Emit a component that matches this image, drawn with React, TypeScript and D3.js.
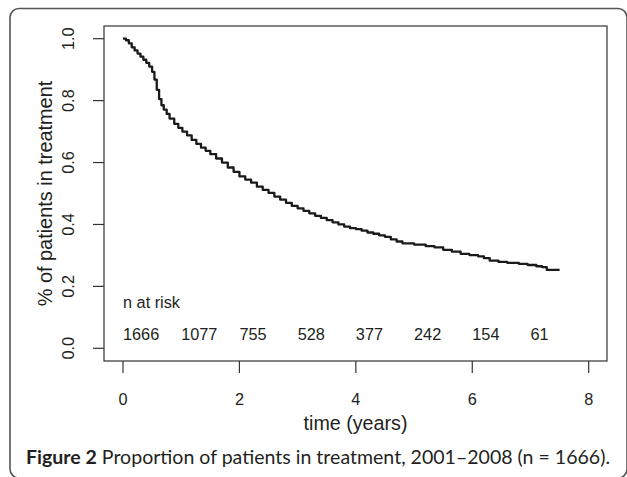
import React from "react";
import * as d3 from "d3";

const times = [0, 0.05, 0.1, 0.15, 0.2, 0.25, 0.3, 0.35, 0.4, 0.45, 0.5, 0.54, 0.58, 0.62, 0.66, 0.7, 0.75, 0.8, 0.88, 0.95, 1.02, 1.1, 1.18, 1.26, 1.34, 1.42, 1.5, 1.6, 1.7, 1.8, 1.9, 2.0, 2.1, 2.2, 2.3, 2.4, 2.5, 2.6, 2.7, 2.8, 2.9, 3.0, 3.1, 3.2, 3.3, 3.4, 3.5, 3.6, 3.7, 3.8, 3.9, 4.0, 4.1, 4.2, 4.3, 4.4, 4.5, 4.6, 4.7, 4.8, 5.0, 5.2, 5.35, 5.5, 5.65, 5.8, 5.95, 6.1, 6.2, 6.3, 6.45, 6.6, 6.8, 6.95, 7.1, 7.2, 7.28, 7.5];
const survival = [1.0, 0.995, 0.985, 0.972, 0.962, 0.952, 0.942, 0.932, 0.922, 0.91, 0.893, 0.868, 0.835, 0.805, 0.785, 0.771, 0.757, 0.742, 0.725, 0.712, 0.7, 0.688, 0.673, 0.66, 0.648, 0.638, 0.627, 0.613, 0.6, 0.584, 0.57, 0.555, 0.545, 0.535, 0.522, 0.512, 0.502, 0.49, 0.48, 0.47, 0.46, 0.452, 0.444, 0.436, 0.428, 0.421, 0.414, 0.407, 0.4, 0.393, 0.388, 0.385, 0.38, 0.374, 0.37, 0.365, 0.36, 0.352, 0.345, 0.339, 0.335, 0.33, 0.326, 0.318, 0.312, 0.305, 0.301, 0.297, 0.291, 0.283, 0.279, 0.276, 0.273, 0.269, 0.265, 0.262, 0.253, 0.253];

const riskTimes = [0, 1, 2, 3, 4, 5, 6, 7];
const riskCounts = ["1666", "1077", "755", "528", "377", "242", "154", "61"];

const xTicks = [0, 2, 4, 6, 8];
const yTicks = [0, 0.2, 0.4, 0.6, 0.8, 1.0];

const xTitle = "time (years)";
const yTitle = "% of patients in treatment";
const riskTitle = "n at risk";
const captionBold = "Figure 2";
const captionRest = " Proportion of patients in treatment, 2001–2008 (n = 1666).";

export default function App() {
  const W = 627, H = 477;
  const box = { left: 104, top: 26, right: 607, bottom: 361 };
  const x = d3.scaleLinear().domain([0, 8]).range([123, 588.7]);
  const y = d3.scaleLinear().domain([0, 1]).range([348.3, 38.7]);
  const pts: [number, number][] = times.map((t, i) => [t, survival[i]]);
  const line = d3
    .line<[number, number]>()
    .x((d) => x(d[0]))
    .y((d) => y(d[1]))
    .curve(d3.curveStepAfter);
  const font = "'Liberation Sans', Arial, Helvetica, sans-serif";
  const ink = "#231f20";

  return (
    <svg
      width={W}
      height={H}
      style={{ position: "absolute", left: 0, top: 0, background: "#fff" }}
      fontFamily={font}
    >
      <rect x={0} y={0} width={W} height={H} fill="#fff" />
      <rect x={10} y={8.5} width={617} height={469.5} rx={9} ry={9} fill="none" stroke="#555" strokeWidth={1.6} />
      <rect
        x={box.left}
        y={box.top}
        width={box.right - box.left}
        height={box.bottom - box.top}
        fill="none"
        stroke="#333"
        strokeWidth={1.2}
      />
      {xTicks.map((t) => (
        <g key={"xt" + t}>
          <line x1={x(t)} x2={x(t)} y1={box.bottom} y2={box.bottom + 12} stroke="#333" strokeWidth={1.2} />
          <text x={x(t)} y={405} fontSize={16.3} textAnchor="middle" fill={ink}>
            {String(t)}
          </text>
        </g>
      ))}
      {yTicks.map((v) => (
        <g key={"yt" + v}>
          <line x1={box.left} x2={box.left - 11} y1={y(v)} y2={y(v)} stroke="#333" strokeWidth={1.2} />
          <text
            transform={`translate(73.5,${y(v)}) rotate(-90)`}
            fontSize={16.3}
            textAnchor="middle"
            fill={ink}
          >
            {v.toFixed(1)}
          </text>
        </g>
      ))}
      <text x={(box.left + box.right) / 2} y={430} fontSize={19.7} textAnchor="middle" fill={ink}>
        {xTitle}
      </text>
      <text
        transform={`translate(51.5,${(box.top + box.bottom) / 2}) rotate(-90)`}
        fontSize={19.9}
        textAnchor="middle"
        fill={ink}
      >
        {yTitle}
      </text>
      <path d={line(pts) || ""} fill="none" stroke="#1a1a1a" strokeWidth={2.3} strokeLinejoin="round" />
      <text x={x(0)} y={308} fontSize={16.3} fill={ink}>
        {riskTitle}
      </text>
      {riskTimes.map((t, i) => (
        <text key={"r" + t} x={x(t)} y={339.5} fontSize={16.3} fill={ink}>
          {riskCounts[i]}
        </text>
      ))}
      <text x={26} y={464} fontSize={19} fill={ink} fontFamily="Lato, 'Open Sans', sans-serif" textLength={584} lengthAdjust="spacingAndGlyphs">
        <tspan fontWeight="bold">{captionBold}</tspan>
        <tspan>{captionRest}</tspan>
      </text>
    </svg>
  );
}
